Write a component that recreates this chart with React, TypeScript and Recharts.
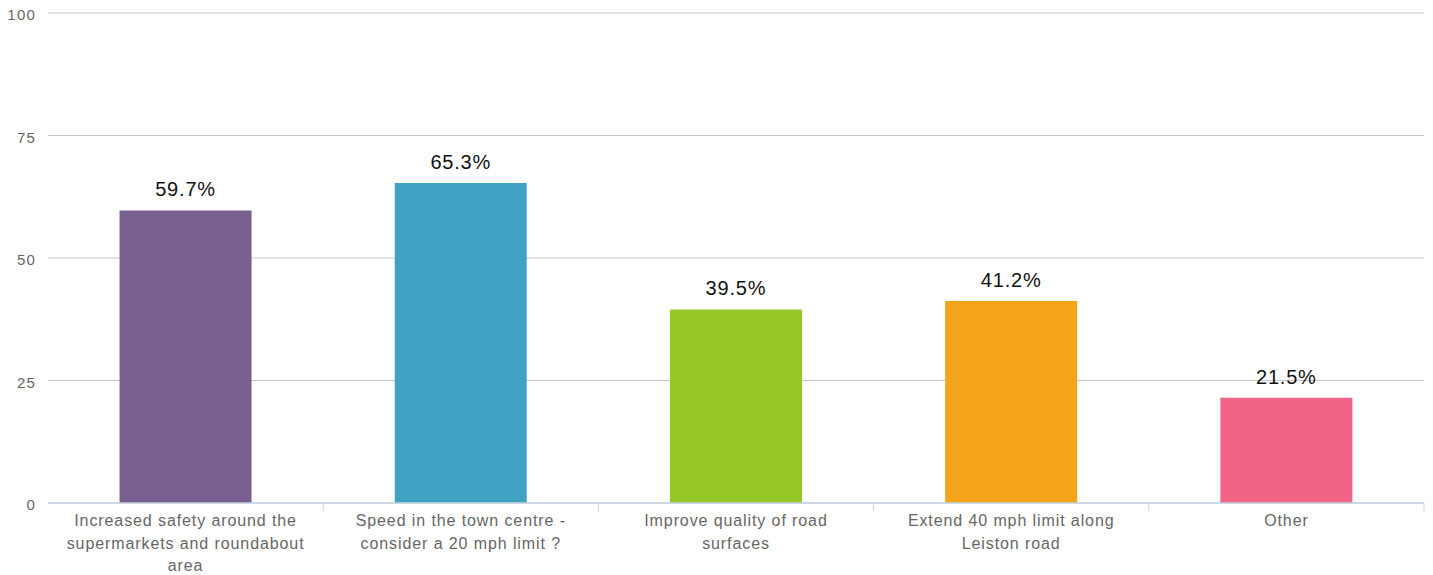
import React from 'react';
import { BarChart, Bar, XAxis, YAxis, CartesianGrid, LabelList, Cell } from 'recharts';

document.body.style.margin = '0';

const categories = [
  'Increased safety around the\nsupermarkets and roundabout\narea',
  'Speed in the town centre -\nconsider a 20 mph limit ?',
  'Improve quality of road\nsurfaces',
  'Extend 40 mph limit along\nLeiston road',
  'Other',
];
const values = [59.7, 65.3, 39.5, 41.2, 21.5];
const colors = ['#7a5f91', '#40a2c2', '#95c726', '#f4a41a', '#f06585'];
const yTicks = [0, 25, 50, 75, 100];

const data = categories.map((name, i) => ({ name, value: values[i] }));

const WIDTH = 1433;
const HEIGHT = 575;
const LEFT = 48;
const RIGHT = 9;
const BAND = (WIDTH - LEFT - RIGHT) / categories.length;
const FONT = '"Liberation Sans", Arial, sans-serif';
const AXIS = '#c5d3e0';

function XTick(props: any) {
  const { x, y, payload, index } = props;
  const lines = String(payload.value).split('\n');
  const half = BAND / 2;
  return (
    <g>
      {index > 0 && <line x1={x - half} x2={x - half} y1={y} y2={y + 8} stroke={AXIS} />}
      {index === categories.length - 1 && (
        <line x1={x + half} x2={x + half} y1={y} y2={y + 8} stroke={AXIS} />
      )}
      <text
        x={x}
        y={y + 23}
        textAnchor="middle"
        fill="#666"
        fontSize={16}
        fontFamily={FONT}
        letterSpacing={0.9}
      >
        {lines.map((l, i) => (
          <tspan key={i} x={x} dy={i === 0 ? 0 : 22.5}>
            {l}
          </tspan>
        ))}
      </text>
    </g>
  );
}

export default function App() {
  return (
    <div style={{ width: WIDTH, height: HEIGHT, background: '#fff' }}>
      <BarChart
        width={WIDTH}
        height={HEIGHT}
        data={data}
        margin={{ top: 13, right: RIGHT, bottom: 0, left: 0 }}
        barCategoryGap="26%"
      >
        <CartesianGrid vertical={false} stroke="#c6c6c6" />
        <XAxis
          dataKey="name"
          interval={0}
          height={72}
          tickLine={false}
          tickSize={0}
          tickMargin={0}
          axisLine={{ stroke: AXIS, strokeWidth: 1.5 }}
          tick={<XTick />}
        />
        <YAxis
          width={LEFT}
          domain={[0, 100]}
          ticks={yTicks}
          axisLine={false}
          tickLine={false}
          tickMargin={6}
          tick={{ fill: '#666', fontSize: 15, fontFamily: FONT, letterSpacing: 1.2, dy: 2 }}
        />
        <Bar dataKey="value" isAnimationActive={false}>
          {data.map((d, i) => (
            <Cell key={d.name} fill={colors[i]} />
          ))}
          <LabelList
            dataKey="value"
            position="top"
            offset={14}
            formatter={(v: any) => `${Number(v).toFixed(1)}%`}
            style={{ fill: '#111', fontSize: 20, fontFamily: FONT, letterSpacing: 0.8 }}
          />
        </Bar>
      </BarChart>
    </div>
  );
}
